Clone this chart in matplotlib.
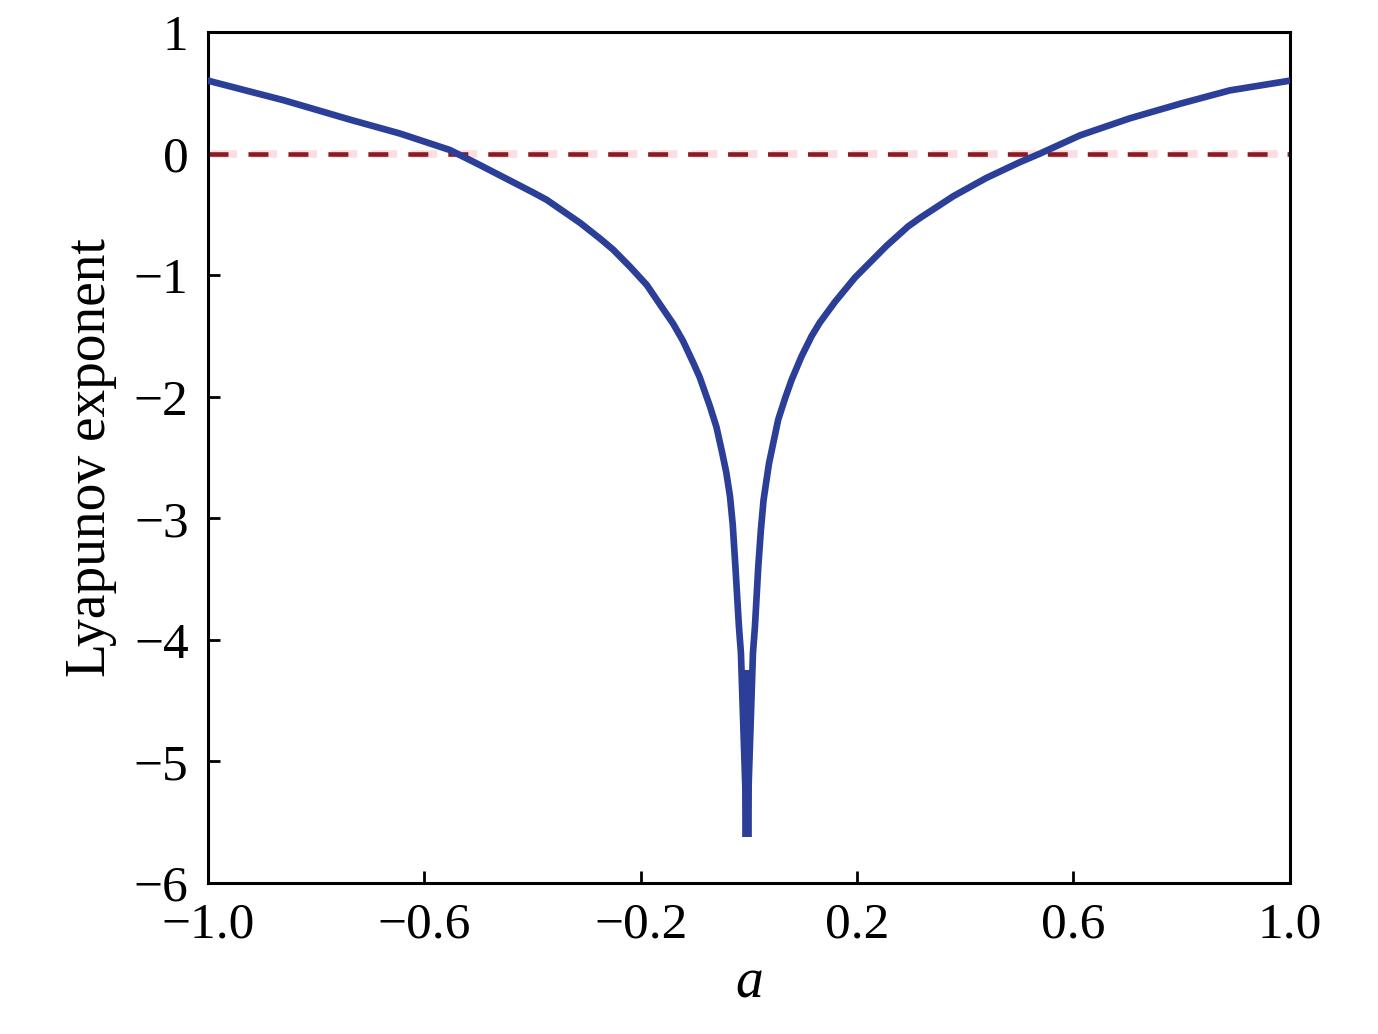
import numpy as np
import matplotlib.pyplot as plt

# values (a, Lyapunov exponent)
a_vals = [-1.000, -0.922, -0.861, -0.830, -0.738, -0.645, -0.553, -0.497, -0.460,
          -0.436, -0.399, -0.374, -0.312, -0.275, -0.251, -0.220, -0.189, -0.160,
          -0.140, -0.122, -0.103, -0.091, -0.072, -0.060, -0.050, -0.042, -0.035,
          -0.030, -0.025, -0.0185, -0.0148, -0.0037,
          0.0074, 0.0111, 0.0172, 0.022, 0.027, 0.037, 0.054, 0.067, 0.079, 0.097,
          0.116, 0.131, 0.159, 0.196, 0.225, 0.254, 0.294, 0.316, 0.378, 0.439,
          0.501, 0.538, 0.612, 0.704, 0.797, 0.889, 1.000]
lyap = [0.60, 0.51, 0.44, 0.40, 0.28, 0.165, 0.03, -0.095, -0.18,
        -0.235, -0.32, -0.38, -0.57, -0.70, -0.79, -0.93, -1.08, -1.27,
        -1.40, -1.54, -1.72, -1.84, -2.08, -2.25, -2.45, -2.62, -2.82,
        -3.05, -3.40, -3.89, -4.11, -5.62,
        -4.11, -3.89, -3.40, -3.10, -2.85, -2.55, -2.19, -2.01, -1.86, -1.67,
        -1.50, -1.39, -1.22, -1.02, -0.89, -0.76, -0.60, -0.53, -0.35, -0.20,
        -0.07, 0.0, 0.15, 0.29, 0.41, 0.52, 0.60]

# the solid bar at the bottom of the dip
spike_a = [-0.0037, -0.0037]
spike_v = [-4.25, -5.62]

x_ticks = [-1.0, -0.6, -0.2, 0.2, 0.6, 1.0]
y_ticks = [-6, -5, -4, -3, -2, -1, 0, 1]
zero_level = 0.0

plt.rcParams['font.family'] = ['Liberation Serif', 'DejaVu Serif']

fig = plt.figure(figsize=(13.78, 10.34), dpi=100)
ax = fig.add_axes([0.151, 0.146, 0.785, 0.823])

# dashed reference line with a faint pink halo
ax.plot([-1, 1], [zero_level, zero_level], color='#fbdde2', lw=5.5,
        linestyle=(4.84, (3.4, 1.84)), zorder=1, dash_capstyle='butt')
ax.plot([-1, 1], [zero_level, zero_level], color='#8b1a22', lw=3.3,
        linestyle=(0, (4.36, 4.36)), zorder=2, dash_capstyle='butt')

blue = '#2b3f98'
ax.plot(a_vals, lyap, color=blue, lw=4.8, solid_joinstyle='bevel', zorder=3)
ax.plot(spike_a, spike_v, color=blue, lw=7, solid_capstyle='butt', zorder=3)

ax.set_xlim(-1, 1)
ax.set_ylim(-6, 1)
ax.set_xticks(x_ticks)
ax.set_xticklabels([f"{t:.1f}".replace('-', '\u2212') for t in x_ticks])
ax.set_yticks(y_ticks)
ax.set_yticklabels([str(t).replace('-', '\u2212') for t in y_ticks])

ax.tick_params(direction='in', length=8.5, width=2, labelsize=37,
               top=False, right=False)
ax.tick_params(axis='x', pad=14)
ax.tick_params(axis='y', pad=14)
for s in ax.spines.values():
    s.set_linewidth(2.2)

ax.set_xlabel('a', fontsize=40, fontstyle='italic', labelpad=6)
ax.set_ylabel('Lyapunov exponent', fontsize=40, labelpad=12)

fig.savefig('out.png', dpi=100)
